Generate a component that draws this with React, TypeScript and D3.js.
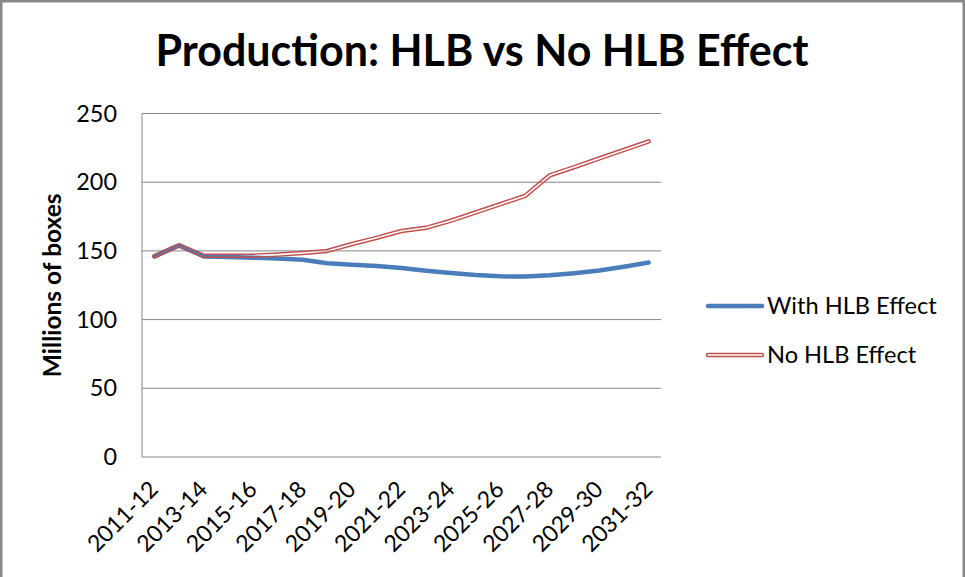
import React from "react";
import * as d3 from "d3";

const categories = [
  "2011-12", "2012-13", "2013-14", "2014-15", "2015-16", "2016-17", "2017-18",
  "2018-19", "2019-20", "2020-21", "2021-22", "2022-23", "2023-24", "2024-25",
  "2025-26", "2026-27", "2027-28", "2028-29", "2029-30", "2030-31", "2031-32",
];
const withHLB = [146, 154, 146, 145.5, 145, 144.5, 143.5, 141, 140, 139, 137.5, 135.5, 134, 132.5, 131.5, 131.3, 132.3, 133.8, 135.7, 138.5, 141.5];
const noHLB = [146, 154, 146.5, 146.5, 146.5, 147.3, 148.5, 150, 155, 159.5, 164.5, 166.8, 172, 178, 184, 190, 205, 211, 217.3, 223.5, 229.7];
const yTicks = [0, 50, 100, 150, 200, 250];
const seriesNames = ["With HLB Effect", "No HLB Effect"];

const W = 965;
const H = 577;
const FONT = "Lato, 'Open Sans', sans-serif";

export default function App() {
  const left = 142, right = 661, top = 113.5, bottom = 457;
  const x = d3.scaleBand<string>().domain(categories).range([left, right]).padding(0);
  const y = d3.scaleLinear().domain([0, 250]).range([bottom, top]);
  const cx = (c: string) => (x(c) as number) + x.bandwidth() / 2;

  const line = d3
    .line<number>()
    .x((_, i) => cx(categories[i]))
    .y((d) => y(d));

  const blue = "#4A7EBB";
  const red = "#C0504D";
  const grid = "#868686";

  const bluePath = line(withHLB) as string;
  const redPath = line(noHLB) as string;
  const legRed = `M708,355L762,355`;

  return (
    <svg width={W} height={H} style={{ position: "absolute", left: 0, top: 0, background: "#fff" }}>
      <defs>
        <mask id="redMask" maskUnits="userSpaceOnUse" x={0} y={0} width={W} height={H}>
          <rect x={0} y={0} width={W} height={H} fill="#fff" />
          <path d={redPath} fill="none" stroke="#000" strokeWidth={1.6} strokeLinejoin="round" strokeLinecap="round" />
          <path d={legRed} fill="none" stroke="#000" strokeWidth={1.6} strokeLinecap="round" />
        </mask>
      </defs>
      <rect x={1.25} y={1.25} width={962.5} height={H + 10} fill="#fff" stroke="#888" strokeWidth={2.5} />

      <text x={482} y={66} textAnchor="middle" fontFamily={FONT} fontWeight="bold" fontSize={43} fill="#000">
        Production: HLB vs No HLB Effect
      </text>

      {yTicks.map((t) => (
        <g key={t}>
          {t > 0 && <line x1={left} x2={right} y1={y(t)} y2={y(t)} stroke={grid} strokeWidth={1} />}
          <text x={117} y={y(t)} dy="0.35em" textAnchor="end" fontFamily={FONT} fontSize={23.4} fill="#000">
            {t}
          </text>
        </g>
      ))}
      <line x1={left} x2={left} y1={top} y2={bottom} stroke={grid} strokeWidth={1} />
      <line x1={left} x2={right} y1={bottom} y2={bottom} stroke={grid} strokeWidth={1} />

      {categories.map((c, i) =>
        i % 2 === 0 ? (
          <text
            key={c}
            transform={`translate(${cx(c) - 0.5},485) rotate(-45)`}
            dy="0.35em"
            textAnchor="end"
            fontFamily={FONT}
            fontSize={23}
            fill="#000"
          >
            {c}
          </text>
        ) : null
      )}

      <text
        transform={`translate(61,${(top + bottom) / 2}) rotate(-90)`}
        textAnchor="middle"
        fontFamily={FONT}
        fontWeight="bold"
        fontSize={24.5}
        fill="#000"
      >
        Millions of boxes
      </text>

      <path d={bluePath} fill="none" stroke={blue} strokeWidth={4.5} strokeLinejoin="round" strokeLinecap="round" />
      <g mask="url(#redMask)">
        <path d={redPath} fill="none" stroke={red} strokeWidth={4.5} strokeLinejoin="round" strokeLinecap="round" />
        <path d={legRed} fill="none" stroke={red} strokeWidth={4.5} strokeLinecap="round" />
      </g>

      <line x1={708} x2={762} y1={306} y2={306} stroke={blue} strokeWidth={4.5} strokeLinecap="round" />
      <text x={767} y={306} dy="0.35em" fontFamily={FONT} fontSize={23.6} fill="#000">
        {seriesNames[0]}
      </text>
      <text x={767} y={355} dy="0.35em" fontFamily={FONT} fontSize={23.6} fill="#000">
        {seriesNames[1]}
      </text>
    </svg>
  );
}
